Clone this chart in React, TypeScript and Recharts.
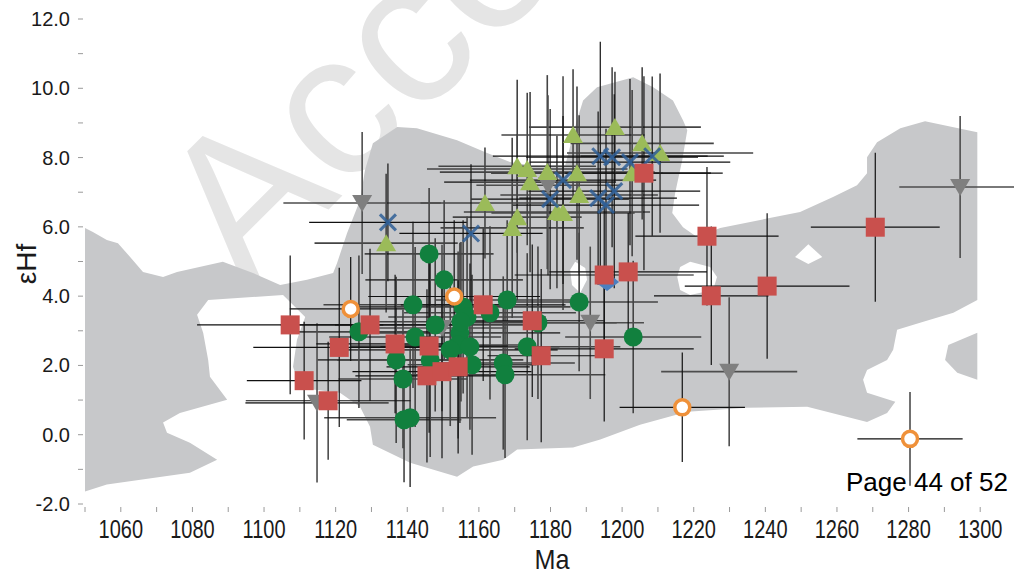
import React from "react";
import { ErrorBar, Scatter, ScatterChart, XAxis, YAxis } from "recharts";

// [Ma, εHf, ±Ma, ±εHf]
const greenCircles = [
  [1146.1, 5.22, 18, 1.9], [1150.3, 4.47, 22, 2.3], [1141.6, 3.75, 25, 2.4],
  [1126.5, 2.97, 20, 2.2], [1147.8, 3.17, 28, 2.5], [1142.2, 2.82, 24, 2.6],
  [1136.9, 2.16, 22, 2.4], [1138.8, 1.61, 18, 2.0], [1146.4, 2.16, 26, 2.8],
  [1140.8, 0.49, 24, 2.0], [1139.1, 0.43, 16, 1.8], [1155.6, 3.69, 30, 2.5],
  [1156.7, 3.4, 22, 2.9], [1154.7, 2.94, 28, 2.6], [1154.2, 2.59, 20, 2.7],
  [1157.5, 2.54, 25, 2.4], [1158.1, 2.02, 18, 2.6], [1152.0, 2.45, 30, 2.2],
  [1167.9, 3.89, 20, 2.3], [1163.1, 3.52, 24, 2.5], [1176.5, 3.23, 22, 2.2],
  [1173.5, 2.54, 26, 2.7], [1166.8, 2.07, 20, 2.5], [1167.3, 1.73, 28, 2.4],
  [1188.0, 3.83, 22, 2.0], [1203.1, 2.82, 19, 2.2], [1155.0, 3.26, 24, 2.3],
];

const redSquares = [
  [1107.3, 3.17, 26, 2.0], [1111.2, 1.56, 16, 1.7], [1117.9, 0.98, 23, 1.7],
  [1121.0, 2.52, 24, 2.3], [1129.6, 3.17, 25, 2.2], [1136.6, 2.62, 22, 2.0],
  [1146.1, 2.56, 22, 2.5], [1145.5, 1.7, 20, 2.5], [1149.7, 1.82, 25, 2.5],
  [1154.2, 1.96, 20, 2.5], [1161.2, 3.75, 23, 2.2], [1174.9, 3.29, 20, 2.2],
  [1177.4, 2.28, 15, 2.5], [1195.0, 4.61, 25, 2.0], [1195.0, 2.48, 25, 2.1],
  [1206.1, 7.55, 22, 2.8], [1201.7, 4.7, 22, 1.7], [1223.7, 5.73, 20, 2.0],
  [1240.5, 4.29, 23, 2.1], [1224.9, 4.01, 16, 2.0], [1270.7, 5.99, 18, 2.15],
];

const greenTriangles = [
  [1134.1, 5.53, 20, 2.0], [1161.7, 6.69, 18, 1.6], [1170.7, 7.75, 22, 2.5],
  [1173.5, 7.67, 28, 2.2], [1174.3, 7.29, 24, 2.6], [1179.1, 7.58, 30, 2.8],
  [1186.3, 8.65, 20, 1.9], [1187.4, 7.55, 24, 2.5], [1188.0, 6.92, 22, 2.3],
  [1170.7, 6.28, 18, 2.4], [1169.3, 5.97, 20, 2.6], [1181.8, 6.43, 26, 2.2],
  [1183.5, 6.4, 20, 2.8], [1198.0, 8.88, 24, 1.6], [1205.6, 8.41, 20, 2.2],
  [1210.6, 8.13, 26, 2.3], [1202.8, 7.55, 22, 2.4],
];

const blueCrosses = [
  [1134.6, 6.13, 22, 1.7], [1157.8, 5.81, 20, 2.0], [1183.5, 7.35, 26, 3.0],
  [1179.9, 6.8, 22, 2.6], [1193.9, 8.04, 30, 3.3], [1197.2, 8.01, 24, 2.6],
  [1202.2, 7.87, 28, 2.4], [1208.4, 8.04, 20, 2.3], [1197.8, 7.03, 24, 2.8],
  [1193.3, 6.83, 22, 2.5], [1195.5, 6.63, 26, 2.2],
];

const grayTriangles = [
  [1127.4, 6.69, 22, 2.05], [1114.8, 0.92, 20, 2.3], [1191.1, 3.23, 15, 2.2],
  [1229.9, 1.82, 19, 2.15], [1294.4, 7.15, 17, 2.05], [1149.7, 3.08, 18, 2.4],
  [1179.3, 7.2, 20, 2.6],
];

const orangeRings = [
  [1124.2, 3.63, 17, 1.5], [1153.1, 3.99, 24, 2.2],
  [1216.8, 0.79, 17.5, 1.58], [1280.4, -0.12, 14.7, 1.35],
];

const blueDiamonds = [[1195.8, 4.41, 0, 0]];

// outline of the shaded field, [Ma, εHf]
const fieldMain = [
  [1130.4, 8.41], [1137.2, 8.88], [1142.7, 8.85], [1153.9, 8.5], [1162.3, 8.13],
  [1168.7, 7.87], [1174.3, 7.78], [1184.1, 7.78], [1187.4, 9.08], [1189.1, 9.65],
  [1193.0, 10.03], [1203.1, 10.32], [1208.7, 10.03], [1214.2, 9.65], [1217.0, 9.08],
  [1218.2, 8.79], [1216.8, 7.93], [1214.8, 6.97], [1214.0, 6.4], [1217.0, 5.99],
  [1220.9, 5.71], [1227.4, 5.97], [1249.7, 6.43], [1258.9, 6.86], [1265.6, 7.2],
  [1268.4, 7.55], [1268.4, 8.01], [1271.2, 8.44], [1277.7, 8.85], [1284.6, 9.05],
  [1299.2, 8.73], [1299.2, 3.89], [1292.5, 3.52], [1283.2, 3.23], [1276.8, 3.03],
  [1275.7, 2.45], [1274.0, 2.16], [1268.4, 1.87], [1267.3, 1.59], [1268.4, 1.21],
  [1276.3, 0.95], [1274.0, 0.63], [1268.4, 0.37], [1251.7, 0.81], [1234.9, 0.78],
  [1218.2, 0.66], [1205.0, 0.29], [1193.9, -0.14], [1186.3, -0.37], [1170.7, -0.43],
  [1166.8, -0.72], [1158.4, -0.92], [1153.9, -1.21], [1140.8, -0.81], [1130.4, -0.29],
  [1129.6, 0.23], [1126.8, 0.81], [1121.2, 1.21], [1110.1, 1.35], [1108.1, 1.96],
  [1109.2, 2.74], [1111.5, 3.4], [1105.3, 4.03], [1084.4, 3.89], [1081.3, 3.46],
  [1083.0, 2.94], [1084.4, 2.16], [1084.9, 1.67], [1089.7, 1.01], [1076.5, 0.63],
  [1071.8, 0.35], [1072.9, 0.06], [1079.3, -0.23], [1086.9, -0.72], [1079.3, -1.1],
  [1056.1, -1.44], [1050.0, -1.64], [1050.0, 5.97], [1052.2, 5.85], [1056.1, 5.62],
  [1059.2, 5.53], [1062.6, 5.13], [1066.2, 4.7], [1071.8, 4.55], [1075.7, 4.7],
  [1088.5, 4.99], [1096.9, 4.67], [1104.5, 4.32], [1112.0, 4.47], [1119.3, 4.67],
  [1120.4, 4.96], [1123.2, 5.82], [1126.8, 6.77], [1128.2, 7.64],
];
const fieldIsland = [
  [1291.1, 2.59], [1299.2, 2.94], [1299.2, 1.59], [1293.6, 1.79], [1290.2, 2.16],
];
const holeA = [
  [1216.2, 4.84], [1219.0, 4.99], [1224.6, 4.84], [1226.5, 4.55],
  [1225.4, 4.18], [1219.0, 4.03], [1216.2, 4.18], [1215.4, 4.55],
];
const holeB = [[1252.0, 5.5], [1255.9, 5.13], [1252.0, 4.93], [1248.3, 5.13]];
const holeC = [
  [1186.9, 4.99], [1189.7, 4.81], [1190.2, 4.47], [1188.3, 4.09], [1186.0, 4.32], [1185.5, 4.76],
];

const xTicks = Array.from({ length: 26 }, (_, i) => 1050 + i * 10);
const yTicks = [-2, -1, 0, 1, 2, 3, 4, 5, 6, 7, 8, 9, 10, 11, 12];

const FONT = "'Liberation Sans', Arial, Helvetica, sans-serif";
const W = 1016;
const H = 572;
const MARGIN = { top: 19, right: 0, bottom: 0, left: 0 };

const rows = (a: number[][]) => a.map(([ma, hf, ex, ey]) => ({ ma, hf, ex, ey }));

const polygon = (fill: string) => (props: any) => {
  const pts: { x: number; y: number }[] = props.points || [];
  if (!pts.length) return <g />;
  const d = pts.map((p, i) => `${i ? "L" : "M"}${p.x},${p.y}`).join(" ") + " Z";
  return <path d={d} fill={fill} stroke="none" />;
};

const none = () => <g />;

const Dot = ({ cx, cy }: any) => <circle cx={cx} cy={cy} r={9.5} fill="#11803e" />;
const Square = ({ cx, cy }: any) => (
  <rect x={cx - 9.5} y={cy - 9.5} width={19} height={19} fill="#c9504d" />
);
const UpTri = ({ cx, cy }: any) => (
  <polygon points={`${cx - 10},${cy + 8} ${cx + 10},${cy + 8} ${cx},${cy - 9}`} fill="#9bbb59" />
);
const DownTri = ({ cx, cy }: any) => (
  <polygon points={`${cx - 10},${cy - 8} ${cx + 10},${cy - 8} ${cx},${cy + 9}`} fill="#7f7f7f" />
);
const Cross = ({ cx, cy }: any) => (
  <g stroke="#2f5f97" strokeWidth={3} strokeOpacity={0.85}>
    <line x1={cx - 8} y1={cy - 8} x2={cx + 8} y2={cy + 8} />
    <line x1={cx - 8} y1={cy + 8} x2={cx + 8} y2={cy - 8} />
  </g>
);
const Ring = ({ cx, cy }: any) => (
  <circle cx={cx} cy={cy} r={7.5} fill="#ffffff" stroke="#ef913a" strokeWidth={3.5} />
);
const Diamond = ({ cx, cy }: any) => (
  <polygon points={`${cx},${cy - 10} ${cx + 12},${cy} ${cx},${cy + 9} ${cx - 12},${cy}`} fill="#4b7fc0" />
);

const XTick = ({ x, y, payload }: any) => {
  const v = payload.value as number;
  return (
    <g>
      <line x1={x} x2={x} y1={y + 3} y2={y + 8} stroke="#9a9a9a" />
      {v % 20 === 0 && (
        <text
          transform={`translate(${x},${y + 34}) scale(0.8,1)`}
          textAnchor="middle"
          fontSize={25}
          fontFamily={FONT}
          fill="#1a1a1a"
        >
          {v}
        </text>
      )}
    </g>
  );
};

const YTick = ({ x, y, payload }: any) => {
  const v = payload.value as number;
  return (
    <g>
      <line x1={x - 7} x2={x - 2} y1={y} y2={y} stroke="#9a9a9a" />
      {v % 2 === 0 && (
        <text x={x - 15} y={y + 7} textAnchor="end" fontSize={20} fontFamily={FONT} fill="#1a1a1a">
          {v.toFixed(1)}
        </text>
      )}
    </g>
  );
};

const errSeries = [
  { key: "gc", data: greenCircles, color: "#444444", w: 1.6 },
  { key: "gt", data: greenTriangles, color: "#444444", w: 1.6 },
  { key: "gr", data: grayTriangles, color: "#4d4d4d", w: 1.6 },
  { key: "rs", data: redSquares, color: "#111111", w: 1.2 },
  { key: "bx", data: blueCrosses, color: "#111111", w: 1.2 },
  { key: "or", data: orangeRings, color: "#111111", w: 1.2 },
];

const markSeries = [
  { key: "m-gr", data: grayTriangles, shape: DownTri },
  { key: "m-gc", data: greenCircles, shape: Dot },
  { key: "m-gt", data: greenTriangles, shape: UpTri },
  { key: "m-bx", data: blueCrosses, shape: Cross },
  { key: "m-bd", data: blueDiamonds, shape: Diamond },
  { key: "m-or", data: orangeRings, shape: Ring },
  { key: "m-rs", data: redSquares, shape: Square },
];

// both layers share these axes so the scales line up exactly
const axes = (visible: boolean) => [
  <XAxis
    key="x"
    type="number"
    dataKey="ma"
    domain={[1050, 1310]}
    allowDataOverflow
    ticks={xTicks}
    interval={0}
    tick={visible ? <XTick /> : false}
    tickLine={false}
    axisLine={false}
    tickSize={0}
    tickMargin={0}
    height={68}
  />,
  <YAxis
    key="y"
    type="number"
    dataKey="hf"
    domain={[-2, 12]}
    allowDataOverflow
    ticks={yTicks}
    interval={0}
    tick={visible ? <YTick /> : false}
    tickLine={false}
    axisLine={false}
    tickSize={0}
    tickMargin={0}
    width={85}
  />,
];

const layer: React.CSSProperties = { position: "absolute", left: 0, top: 0 };

export default function App() {
  return (
    <div style={{ position: "absolute", left: 0, top: 0, width: 1014, height: 572, overflow: "hidden", background: "#fff" }}>
      <svg width={1014} height={572} style={layer}>
        <text transform="translate(246,292) rotate(-45)" fontSize={205} fontFamily={FONT} fill="#e5e5e5">
          Accepted
        </text>
      </svg>
      <div style={layer}>
        <ScatterChart width={W} height={H} margin={MARGIN}>
          {axes(true)}
          <Scatter data={rows(fieldMain)} line={polygon("#c7c8ca")} shape={none} isAnimationActive={false} />
          <Scatter data={rows(fieldIsland)} line={polygon("#c7c8ca")} shape={none} isAnimationActive={false} />
          <Scatter data={rows(holeA)} line={polygon("#ffffff")} shape={none} isAnimationActive={false} />
          <Scatter data={rows(holeB)} line={polygon("#ffffff")} shape={none} isAnimationActive={false} />
          <Scatter data={rows(holeC)} line={polygon("#ffffff")} shape={none} isAnimationActive={false} />
        </ScatterChart>
      </div>
      <div style={layer}>
        <ScatterChart width={W} height={H} margin={MARGIN}>
          {axes(false)}
          {errSeries.map((s) => (
            <Scatter key={s.key} data={rows(s.data)} shape={none} isAnimationActive={false}>
              <ErrorBar dataKey="ex" direction="x" width={0} stroke={s.color} strokeWidth={s.w} isAnimationActive={false} />
              <ErrorBar dataKey="ey" direction="y" width={0} stroke={s.color} strokeWidth={s.w} isAnimationActive={false} />
            </Scatter>
          ))}
          {markSeries.map((s) => (
            <Scatter key={s.key} data={rows(s.data)} shape={s.shape} isAnimationActive={false} />
          ))}
        </ScatterChart>
      </div>
      <svg width={1014} height={572} style={{ ...layer, pointerEvents: "none" }}>
        <text transform="translate(36,264) rotate(-90)" textAnchor="middle" fontSize={28} fontFamily={FONT} fill="#1a1a1a">
          εHf
        </text>
        <text transform="translate(552,569) scale(0.9,1)" textAnchor="middle" fontSize={28} fontFamily={FONT} fill="#1a1a1a">
          Ma
        </text>
        <text x={846} y={491} fontSize={26} fontFamily={FONT} fill="#000">
          Page 44 of 52
        </text>
      </svg>
    </div>
  );
}
